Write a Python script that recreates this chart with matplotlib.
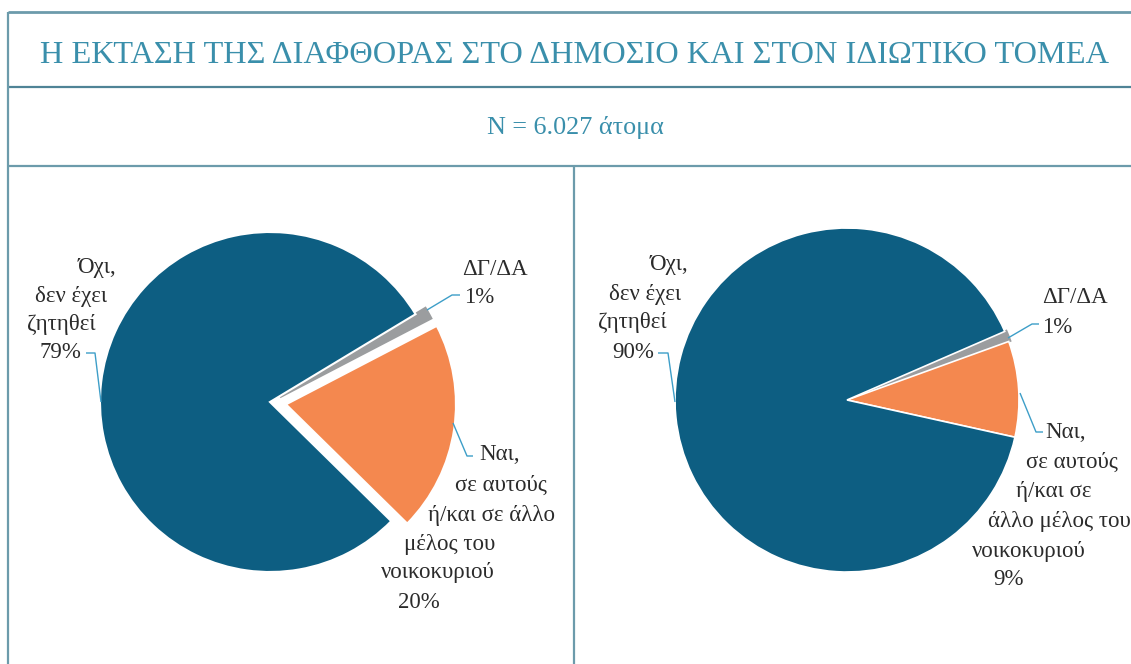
import matplotlib
matplotlib.use("Agg")
import matplotlib.pyplot as plt

# ---------------- data ----------------
title = "Η ΕΚΤΑΣΗ ΤΗΣ ΔΙΑΦΘΟΡΑΣ ΣΤΟ ΔΗΜΟΣΙΟ ΚΑΙ ΣΤΟΝ ΙΔΙΩΤΙΚΟ ΤΟΜΕΑ"
subtitle = "N = 6.027 άτομα"
categories = ["Ναι", "ΔΓ/ΔΑ", "Όχι"]
public_values = [20, 1, 79]
private_values = [9, 1, 90]

# ---------------- style ----------------
W, H = 1131, 664
BLUE = "#0d5e82"
ORANGE = "#f4884f"
GREY = "#9b9d9f"
LEADER = "#3d9ec8"
TEXT = "#2b2b2b"
TEAL = "#3a8fab"
FRAME = "#6c9bab"
FONT = "Liberation Serif"
colors = [ORANGE, GREY, BLUE]


def Y(y):
    return H - y


fig = plt.figure(figsize=(W / 100, H / 100), dpi=100)
ax = fig.add_axes([0, 0, 1, 1])

# ---------------- pies ----------------
r1 = 170
w1, _ = ax.pie(public_values, colors=colors, startangle=-44.5, counterclock=True,
               center=(270, Y(402)), radius=r1,
               explode=[0.095 * r1, 0.065 * r1, 0],
               wedgeprops=dict(edgecolor="white", linewidth=1.5), frame=False)
w1[1].set_edgecolor(GREY)
w1[1].set_linewidth(2.5)

r2 = 172
w2, _ = ax.pie(private_values, colors=colors, startangle=-12.5, counterclock=True,
               center=(847, Y(400)), radius=r2,
               explode=[0, 0.01 * r2, 0],
               wedgeprops=dict(edgecolor="white", linewidth=1.2), frame=False)
w2[1].set_edgecolor(GREY)
w2[1].set_linewidth(1.5)
w2[1].set_zorder(w2[0].get_zorder() - 0.1)

ax.set_xlim(0, W)
ax.set_ylim(0, H)
ax.set_aspect("auto")
ax.axis("off")

# ---------------- frame ----------------
lw = 1.6
ax.plot([8, W], [Y(12), Y(12)], color=FRAME, lw=2.0, solid_capstyle="butt")
ax.plot([8, W], [Y(87), Y(87)], color="#4f8396", lw=lw, solid_capstyle="butt")
ax.plot([8, W], [Y(166), Y(166)], color=FRAME, lw=lw, solid_capstyle="butt")
ax.plot([8, 8], [Y(12), 0], color=FRAME, lw=lw, solid_capstyle="butt")
ax.plot([574, 574], [Y(166), 0], color=FRAME, lw=lw, solid_capstyle="butt")

# ---------------- title texts ----------------
t = ax.text(575, Y(63), title, ha="center", va="baseline", color=TEAL,
            family=FONT, fontsize=24)
fig.canvas.draw()
bb = t.get_window_extent()
t.set_fontsize(24 * 1070 / bb.width)

ax.text(575, Y(134), subtitle, ha="center", va="baseline", color=TEAL,
        family=FONT, fontsize=18.8)

# ---------------- labels ----------------
FS = 16.5


def lines(items):
    for s, x, y in items:
        ax.text(x, Y(y), s, ha="center", va="baseline", color=TEXT,
                family=FONT, fontsize=FS)


def leader(pts):
    ax.plot([p[0] for p in pts], [Y(p[1]) for p in pts], color=LEADER,
            lw=1.0, solid_capstyle="butt")


# left pie
lines([("Όχι,", 97, 273), ("δεν έχει", 71, 302), ("ζητηθεί", 61, 330),
       (f"{public_values[2]}%", 60, 358)])
leader([(86, 353), (95, 353), (101, 402)])

ax.text(462, Y(275), categories[1], ha="left", va="baseline", color=TEXT,
        family=FONT, fontsize=FS)
ax.text(464, Y(303), f"{public_values[1]}%", ha="left", va="baseline",
        color=TEXT, family=FONT, fontsize=FS)
leader([(427, 310), (452, 295), (460, 295)])

lines([("Ναι,", 500, 460), ("σε αυτούς", 501, 491), ("ή/και σε άλλο", 492, 521),
       ("μέλος του", 450, 550), ("νοικοκυριού", 438, 578),
       (f"{public_values[0]}%", 419, 608)])
leader([(453, 423), (467, 456), (473, 456)])

# right pie
lines([("Όχι,", 669, 270), ("δεν έχει", 645, 300), ("ζητηθεί", 632, 328),
       (f"{private_values[2]}%", 633, 358)])
leader([(658, 353), (668, 353), (675, 402)])

ax.text(1042, Y(303), categories[1], ha="left", va="baseline", color=TEXT,
        family=FONT, fontsize=FS)
ax.text(1042, Y(333), f"{private_values[1]}%", ha="left", va="baseline",
        color=TEXT, family=FONT, fontsize=FS)
leader([(1008, 338), (1032, 324), (1039, 324)])

lines([("Ναι,", 1066, 438), ("σε αυτούς", 1072, 468), ("ή/και σε", 1054, 497),
       ("άλλο μέλος του", 1059, 527), ("νοικοκυριού", 1029, 557),
       (f"{private_values[0]}%", 1009, 585)])
leader([(1020, 393), (1036, 432), (1043, 432)])

fig.savefig("out.png", dpi=100, facecolor="white")
